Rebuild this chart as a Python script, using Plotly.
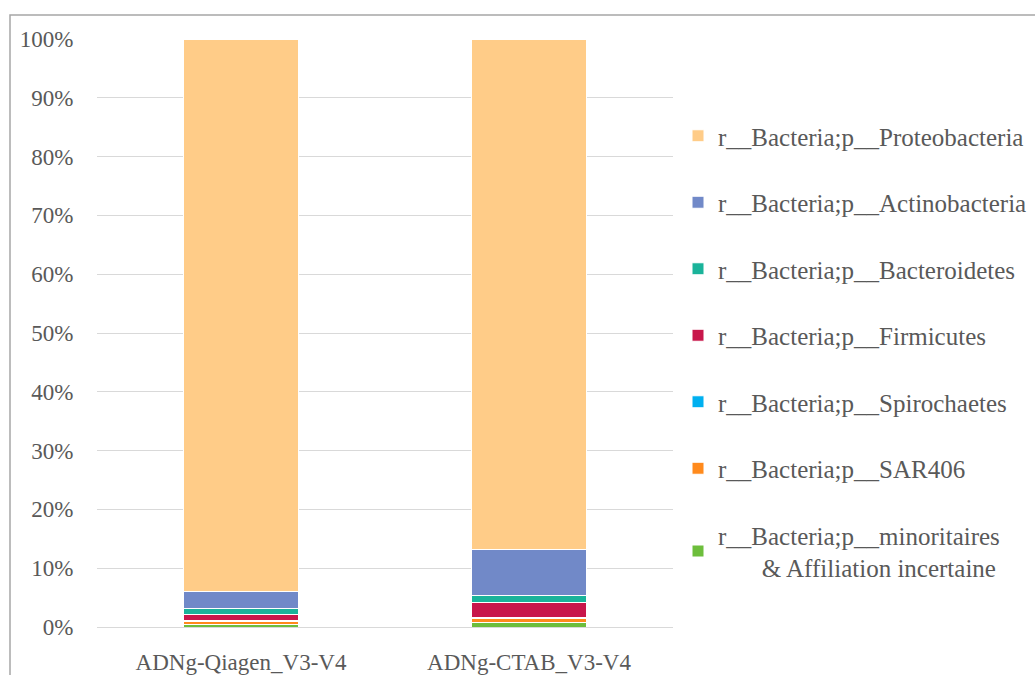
import plotly.graph_objects as go

# Samples (x categories)
samples = ["ADNg-Qiagen_V3-V4", "ADNg-CTAB_V3-V4"]

# Relative abundance (%) per phylum, listed from the bottom of the stack upwards
phyla = [
    "r__Bacteria;p__minoritaires<br>&#160;&#160;&#160;&#160;&#160;&#160;&#160;& Affiliation incertaine",
    "r__Bacteria;p__SAR406",
    "r__Bacteria;p__Spirochaetes",
    "r__Bacteria;p__Firmicutes",
    "r__Bacteria;p__Bacteroidetes",
    "r__Bacteria;p__Actinobacteria",
    "r__Bacteria;p__Proteobacteria",
]
minoritaires = [0.46, 0.80]
sar406 = [0.56, 0.70]
spirochaetes = [0.10, 0.15]
firmicutes = [0.97, 2.60]
bacteroidetes = [1.09, 1.14]
actinobacteria = [2.89, 7.76]
proteobacteria = [93.93, 86.85]

series = [minoritaires, sar406, spirochaetes, firmicutes,
          bacteroidetes, actinobacteria, proteobacteria]
colors = ["#6DBE3C", "#FF8A1C", "#00B0F0", "#C8174B",
          "#1AB39A", "#7189C8", "#FFCC88"]

fig = go.Figure()
n = len(phyla)
for i, (name, vals, col) in enumerate(zip(phyla, series, colors)):
    fig.add_trace(go.Bar(
        x=samples, y=vals, name=name,
        marker=dict(color=col, line=dict(color="white", width=1)),
        legendgroup=f"g{i}",
        legendrank=n - i,
    ))

font_family = "Liberation Serif, Times New Roman, serif"
text_color = "#595959"

fig.update_layout(
    barmode="stack",
    bargap=0.6,
    width=1035, height=675,
    margin=dict(l=97, r=362, t=39, b=48, autoexpand=False),
    paper_bgcolor="white",
    plot_bgcolor="white",
    font=dict(family=font_family, size=24, color=text_color),
    showlegend=True,
    legend=dict(
        traceorder="grouped",
        tracegroupgap=31,
        xref="container", yref="container",
        x=678 / 1035, y=1 - 113 / 675, xanchor="left", yanchor="top",
        font=dict(size=25, color=text_color, family=font_family),
        itemwidth=30,
        maxheight=620,
        bgcolor="rgba(0,0,0,0)",
    ),
    yaxis=dict(
        range=[0, 100],
        tickvals=[0, 10, 20, 30, 40, 50, 60, 70, 80, 90, 100],
        ticktext=[f"{v}%" for v in range(0, 101, 10)],
        showgrid=True, gridcolor="#D9D9D9", gridwidth=1,
        zeroline=False, showline=False,
        ticks="outside", ticklen=18, tickcolor="rgba(0,0,0,0)",
        tickfont=dict(size=23),
    ),
    xaxis=dict(
        showline=True, linecolor="#D9D9D9", linewidth=1,
        ticks="outside", ticklen=14, tickcolor="rgba(0,0,0,0)",
        tickfont=dict(size=23),
    ),
    shapes=[
        dict(type="rect", xref="paper", yref="paper",
             x0=(10 - 97) / 576, x1=(1040 - 97) / 576,
             y0=(627 - 680) / 588, y1=(627 - 15) / 588,
             line=dict(color="#A6A6A6", width=1.5), fillcolor="rgba(0,0,0,0)",
             layer="below"),
    ],
)

fig.write_html("out.html")
